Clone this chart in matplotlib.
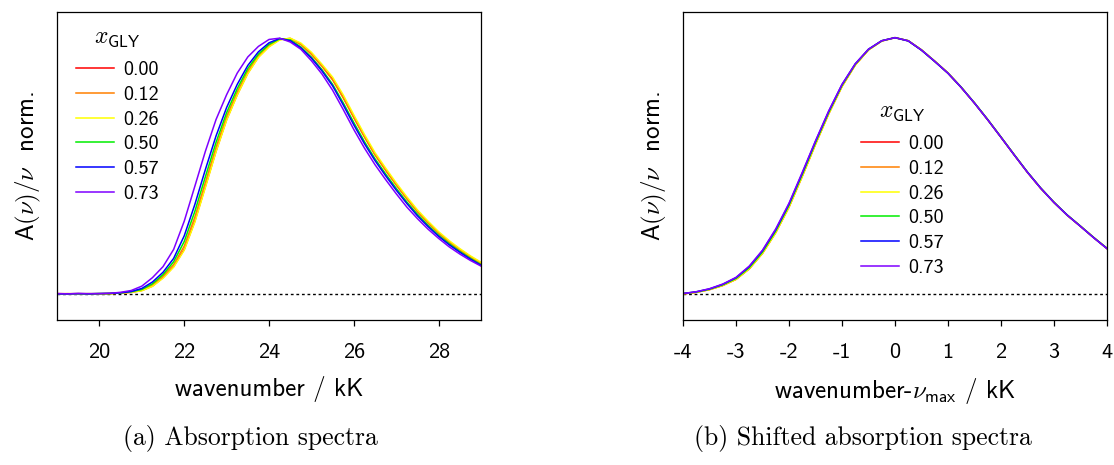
import numpy as np
import matplotlib
matplotlib.use("Agg")
import matplotlib.pyplot as plt

plt.rcParams["font.family"] = "cmss10"
plt.rcParams["mathtext.fontset"] = "cm"
plt.rcParams["axes.unicode_minus"] = False
plt.rcParams["axes.formatter.use_mathtext"] = False

X_GLY = ["0.00", "0.12", "0.26", "0.50", "0.57", "0.73"]
COLORS = ["#ff0000", "#ff8000", "#ffff00", "#00ee00", "#0000ff", "#7f00ff"]

# absorption spectra A(nu)/nu, normalised to the band maximum, 19-29 kK in 0.25 kK steps
WAVENUMBER = np.arange(19.0, 29.001, 0.25)
ABS = [
    [.003, .002, .003, .002, .002, .003, .005, .008, .015, .032,
     .065, .108, .175, .285, .421, .558, .681, .778, .862, .925,
     .966, .993, .997, .975, .937, .890, .838, .768, .690, .615,
     .545, .485, .428, .374, .324, .280, .240, .205, .175, .147, .122],
    [.002, .003, .002, .002, .003, .003, .005, .009, .017, .036,
     .073, .116, .188, .301, .437, .573, .693, .788, .870, .930,
     .970, .994, .996, .973, .935, .888, .835, .765, .688, .613,
     .543, .483, .426, .372, .322, .278, .238, .203, .173, .145, .120],
    [.002, .002, .002, .003, .002, .003, .005, .008, .014, .031,
     .063, .106, .172, .281, .417, .555, .678, .776, .860, .923,
     .964, .991, .998, .979, .943, .896, .846, .777, .699, .623,
     .552, .492, .434, .380, .329, .285, .244, .209, .178, .150, .125],
    [.002, .002, .002, .002, .003, .003, .006, .010, .019, .041,
     .077, .127, .206, .323, .459, .592, .708, .801, .880, .936,
     .974, .995, .991, .964, .924, .875, .818, .746, .669, .595,
     .528, .469, .413, .360, .312, .269, .230, .197, .167, .140, .115],
    [.002, .002, .003, .002, .003, .004, .006, .011, .023, .048,
     .086, .140, .228, .350, .487, .617, .728, .818, .892, .945,
     .980, .997, .988, .960, .920, .870, .812, .738, .660, .587,
     .521, .462, .406, .354, .306, .264, .226, .193, .164, .137, .113],
    [.003, .002, .003, .003, .003, .004, .008, .015, .032, .065,
     .108, .175, .285, .421, .558, .681, .778, .862, .925, .966,
     .993, .998, .983, .955, .910, .858, .795, .720, .642, .570,
     .505, .447, .392, .340, .295, .254, .218, .185, .157, .132, .110],
]

# the same spectra on a wavenumber axis relative to each band maximum, -4..4 kK
SHIFT = np.arange(-4.0, 4.001, 0.25)
ABS_SHIFTED = [
    [.002, .008, .019, .035, .059, .100, .161, .242, .341,
     .461, .586, .705, .811, .894, .953, .987, 1.000,
     .988, .952, .908, .862, .806, .745, .680, .612,
     .543, .475, .413, .358, .308, .265, .221, .178],
    [.002, .008, .018, .034, .058, .099, .159, .240, .339,
     .459, .584, .703, .809, .893, .952, .987, 1.000,
     .988, .952, .908, .862, .806, .745, .680, .612,
     .543, .475, .413, .358, .308, .265, .221, .179],
    [.002, .008, .019, .035, .059, .100, .160, .241, .340,
     .460, .585, .704, .810, .893, .952, .987, 1.000,
     .988, .953, .909, .863, .807, .746, .681, .613,
     .544, .476, .414, .359, .309, .266, .222, .180],
    [.003, .009, .020, .037, .062, .104, .165, .247, .347,
     .467, .591, .709, .814, .896, .954, .988, 1.000,
     .988, .952, .908, .862, .807, .746, .681, .613,
     .544, .476, .414, .359, .309, .266, .221, .179],
    [.003, .010, .021, .039, .065, .108, .170, .252, .352,
     .472, .596, .713, .817, .898, .955, .988, 1.000,
     .987, .951, .907, .861, .806, .745, .680, .612,
     .543, .476, .414, .358, .309, .265, .221, .179],
    [.003, .010, .022, .040, .066, .110, .172, .255, .355,
     .475, .598, .715, .818, .898, .955, .988, 1.000,
     .988, .952, .908, .862, .806, .745, .680, .612,
     .543, .475, .413, .358, .308, .265, .220, .178],
]


def style_axes(ax):
    ax.set_ylim(-0.1, 1.1)
    ax.set_yticks([])
    ax.axhline(0, color="black", linestyle=(0, (2, 2)), linewidth=1.0, zorder=1)
    ax.tick_params(axis="x", direction="out", length=4.5, width=0.9,
                   labelsize=16, pad=12)
    for sp in ax.spines.values():
        sp.set_linewidth(0.9)
    ax.set_ylabel(r"A$(\nu)/\nu$  norm.", fontsize=18, labelpad=10)


def add_legend(ax, anchor):
    leg = ax.legend(title=r"$x_{\mathsf{GLY}}$", loc="upper left",
                    bbox_to_anchor=anchor, frameon=False, fontsize=14.5,
                    title_fontsize=17, handlelength=1.9, handletextpad=0.45,
                    labelspacing=0.33, borderpad=0, borderaxespad=0)
    # a little more room between the title and the first entry
    leg._legend_box.sep += 4
    return leg


fig = plt.figure(figsize=(11.14, 4.65), dpi=100)
ax1 = fig.add_axes([0.0512, 0.3118, 0.3806, 0.6624])
ax2 = fig.add_axes([0.6131, 0.3118, 0.3806, 0.6624])

for vals, lab, c in zip(ABS, X_GLY, COLORS):
    ax1.plot(WAVENUMBER, vals, color=c, linewidth=1.1, label=lab, zorder=2)
style_axes(ax1)
ax1.set_xlim(19, 29)
ax1.set_xticks([20, 22, 24, 26, 28])
ax1.set_xlabel("wavenumber / kK", fontsize=18, labelpad=10)
add_legend(ax1, (0.045, 0.955))

for vals, lab, c in zip(ABS_SHIFTED, X_GLY, COLORS):
    ax2.plot(SHIFT, vals, color=c, linewidth=1.1, label=lab, zorder=2)
style_axes(ax2)
ax2.set_xlim(-4, 4)
ax2.set_xticks(range(-4, 5))
ax2.set_xlabel(r"wavenumber-$\nu_{\mathsf{max}}$ / kK", fontsize=18, labelpad=10)
add_legend(ax2, (0.42, 0.715))

fig.text(250 / 1114, 1 - 438 / 465, "(a) Absorption spectra",
         family="cmr10", fontsize=18.5, ha="center", va="center")
fig.text(863 / 1114, 1 - 438 / 465, "(b) Shifted absorption spectra",
         family="cmr10", fontsize=18.5, ha="center", va="center")

fig.savefig("out.png", dpi=100)
